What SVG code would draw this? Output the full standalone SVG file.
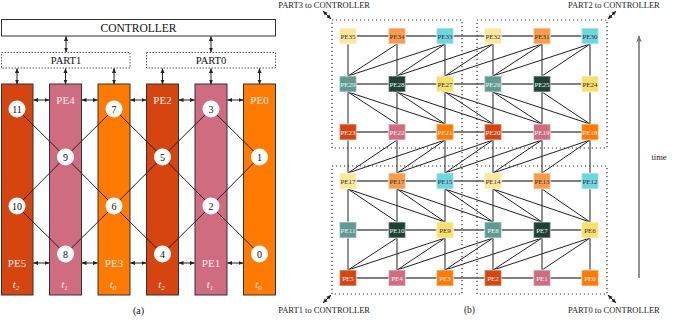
<svg xmlns="http://www.w3.org/2000/svg" width="680" height="328" viewBox="0 0 680 328">
<defs>
<marker id="ah" viewBox="0 0 10 10" refX="9" refY="5" markerWidth="5" markerHeight="5" orient="auto-start-reverse" markerUnits="userSpaceOnUse"><path d="M0,1 L10,5 L0,9 z" fill="#222"/></marker>
<marker id="ahg" viewBox="0 0 10 10" refX="9" refY="5" markerWidth="7" markerHeight="7" orient="auto-start-reverse" markerUnits="userSpaceOnUse"><path d="M0,1 L10,5 L0,9 L3,5 z" fill="#777"/></marker>
<style>
text{font-family:"Liberation Serif","Times New Roman",serif;}
.dbl{stroke:#222;stroke-width:1;fill:none;marker-start:url(#ah);marker-end:url(#ah);}
.col{stroke:#333;stroke-width:1;}
.red{fill:#d64410;} .pink{fill:#d06c80;} .org{fill:#ff7a00;}
.pel{font-size:11px;fill:#fbeeee;text-anchor:middle;}
.tl{font-size:11px;fill:#fbeeee;text-anchor:middle;font-style:italic;}
.circ{fill:#fff;}
.num{font-size:10px;fill:#111;text-anchor:middle;}
.edge{stroke:#222;stroke-width:1;fill:none;}
.hl{stroke:#555;stroke-width:1.3;fill:none;}
.part{fill:none;stroke:#333;stroke-width:1.2;stroke-dasharray:1.2 2.8;}
.partA{fill:#fff;stroke:#555;stroke-width:1;stroke-dasharray:1.5 1.5;}
.bx{stroke:#fff;stroke-opacity:0.45;stroke-width:1.5;}
.ly{fill:#fbe898;} .lo{fill:#fa9b4b;} .cy{fill:#6ed6e0;}
.tg{fill:#5f9b91;} .dg{fill:#1e4134;} .yw{fill:#f9df6c;}
.gl{font-size:7px;text-anchor:middle;}
.dk{fill:#333;} .wt{fill:#f4f4f4;}
.cap{font-size:8.5px;fill:#222;}
</style>
</defs>
<!-- (a) -->
<g id="controller"><rect x="1.5" y="19.5" width="274" height="16.5" fill="#fff" stroke="#333"/><text x="138.5" y="31.8" font-size="11.5" text-anchor="middle" fill="#111">CONTROLLER</text></g>
<g id="part1"><rect class="partA" x="1.5" y="52.5" width="128.5" height="15.5"/><text x="66" y="64" font-size="10.5" text-anchor="middle" fill="#111">PART1</text></g>
<g id="part0"><rect class="partA" x="146.5" y="52.5" width="129" height="15.5"/><text x="211" y="64" font-size="10.5" text-anchor="middle" fill="#111">PART0</text></g>
<g id="pe5a"><rect class="col red" x="1.5" y="84" width="31.5" height="211"/><text class="pel" x="17" y="267">PE5</text><text class="tl" x="16" y="288">t<tspan font-size="7" dy="2">2</tspan></text></g>
<g id="pe4a"><rect class="col pink" x="49.5" y="84" width="32" height="211"/><text class="pel" x="65.5" y="104">PE4</text><text class="tl" x="64.5" y="288">t<tspan font-size="7" dy="2">1</tspan></text></g>
<g id="pe3a"><rect class="col org" x="98" y="84" width="32" height="211"/><text class="pel" x="114" y="267">PE3</text><text class="tl" x="113" y="288">t<tspan font-size="7" dy="2">0</tspan></text></g>
<g id="pe2a"><rect class="col red" x="146.5" y="84" width="32" height="211"/><text class="pel" x="162.5" y="104">PE2</text><text class="tl" x="161.5" y="288">t<tspan font-size="7" dy="2">2</tspan></text></g>
<g id="pe1a"><rect class="col pink" x="195" y="84" width="32" height="211"/><text class="pel" x="211" y="267">PE1</text><text class="tl" x="210" y="288">t<tspan font-size="7" dy="2">1</tspan></text></g>
<g id="pe0a"><rect class="col org" x="243.5" y="84" width="32" height="211"/><text class="pel" x="259.5" y="104">PE0</text><text class="tl" x="258.5" y="288">t<tspan font-size="7" dy="2">0</tspan></text></g>
<g id="connectors-a">
<line class="dbl" x1="66" y1="36.5" x2="66" y2="52"/>
<line class="dbl" x1="211" y1="36.5" x2="211" y2="52"/>
<line class="dbl" x1="17" y1="68.5" x2="17" y2="84"/>
<line class="dbl" x1="65.5" y1="68.5" x2="65.5" y2="84"/>
<line class="dbl" x1="114" y1="68.5" x2="114" y2="84"/>
<line class="dbl" x1="162.5" y1="68.5" x2="162.5" y2="84"/>
<line class="dbl" x1="211" y1="68.5" x2="211" y2="84"/>
<line class="dbl" x1="259.5" y1="68.5" x2="259.5" y2="84"/>
<line class="dbl" x1="33.5" y1="100" x2="49" y2="100"/>
<line class="dbl" x1="82" y1="100" x2="97.5" y2="100"/>
<line class="dbl" x1="130.5" y1="100" x2="146" y2="100"/>
<line class="dbl" x1="179" y1="100" x2="194.5" y2="100"/>
<line class="dbl" x1="227.5" y1="100" x2="243" y2="100"/>
<line class="dbl" x1="33.5" y1="263" x2="49" y2="263"/>
<line class="dbl" x1="82" y1="263" x2="97.5" y2="263"/>
<line class="dbl" x1="130.5" y1="263" x2="146" y2="263"/>
<line class="dbl" x1="179" y1="263" x2="194.5" y2="263"/>
<line class="dbl" x1="227.5" y1="263" x2="243" y2="263"/>
<path class="edge" d="M17,109 L65.5,157 M114,109 L65.5,157 M65.5,157 L17,206 M65.5,157 L114,206 M114,109 L162.5,157 M211,109 L162.5,157 M162.5,157 L114,206 M162.5,157 L211,206 M211,109 L259.5,157 M259.5,157 L211,206 M17,206 L65.5,254 M114,206 L65.5,254 M114,206 L162.5,254 M211,206 L162.5,254 M211,206 L259.5,254"/>
</g>
<g id="n11"><circle class="circ" cx="17" cy="109" r="8.5"/><text class="num" x="17" y="112.5">11</text></g>
<g id="n7"><circle class="circ" cx="114" cy="109" r="8.5"/><text class="num" x="114" y="112.5">7</text></g>
<g id="n3"><circle class="circ" cx="211" cy="109" r="8.5"/><text class="num" x="211" y="112.5">3</text></g>
<g id="n9"><circle class="circ" cx="65.5" cy="157" r="8.5"/><text class="num" x="65.5" y="160.5">9</text></g>
<g id="n5"><circle class="circ" cx="162.5" cy="157" r="8.5"/><text class="num" x="162.5" y="160.5">5</text></g>
<g id="n1"><circle class="circ" cx="259.5" cy="157" r="8.5"/><text class="num" x="259.5" y="160.5">1</text></g>
<g id="n10"><circle class="circ" cx="17" cy="206" r="8.5"/><text class="num" x="17" y="209.5">10</text></g>
<g id="n6"><circle class="circ" cx="114" cy="206" r="8.5"/><text class="num" x="114" y="209.5">6</text></g>
<g id="n2"><circle class="circ" cx="211" cy="206" r="8.5"/><text class="num" x="211" y="209.5">2</text></g>
<g id="n8"><circle class="circ" cx="65.5" cy="254" r="8.5"/><text class="num" x="65.5" y="257.5">8</text></g>
<g id="n4"><circle class="circ" cx="162.5" cy="254" r="8.5"/><text class="num" x="162.5" y="257.5">4</text></g>
<g id="n0"><circle class="circ" cx="259.5" cy="254" r="8.5"/><text class="num" x="259.5" y="257.5">0</text></g>
<text x="138.5" y="314" font-size="10" text-anchor="middle" fill="#111">(a)</text>
<!-- (b) -->
<g id="partitions">
<rect class="part" x="332" y="20" width="130" height="128"/>
<rect class="part" x="477" y="20" width="130" height="128"/>
<rect class="part" x="332" y="166" width="130" height="128"/>
<rect class="part" x="477" y="166" width="130" height="128"/>
<path class="part" d="M462,148 V166 M477,148 V166"/>
</g>
<g id="connectors-b">
<path class="hl" d="M348,36 H590 M348,84 H590 M348,132 H590 M348,181 H590 M348,230 H590 M348,278 H590"/>
<path class="edge" d="M348,36 V278 M397,36 V278 M445,36 V278 M493,36 V278 M542,36 V278 M590,36 V278"/>
<path class="edge" d="M397,44 L348,76 M445,44 L397,76 M445,44 L348,76 M493,44 L445,76 M493,44 L397,76 M542,44 L493,76 M542,44 L445,76 M590,44 L542,76 M590,44 L493,76"/>
<path class="edge" d="M348,92 L397,124 M348,92 L445,124 M397,92 L445,124 M397,92 L493,124 M445,92 L493,124 M445,92 L542,124 M493,92 L542,124 M493,92 L590,124 M542,92 L590,124"/>
<path class="edge" d="M397,140 L348,173 M445,140 L397,173 M445,140 L348,173 M493,140 L445,173 M493,140 L397,173 M542,140 L493,173 M542,140 L445,173 M590,140 L542,173 M590,140 L493,173"/>
<path class="edge" d="M348,189 L397,222 M348,189 L445,222 M397,189 L445,222 M397,189 L493,222 M445,189 L493,222 M445,189 L542,222 M493,189 L542,222 M493,189 L590,222 M542,189 L590,222"/>
<path class="edge" d="M397,238 L348,270 M445,238 L397,270 M445,238 L348,270 M493,238 L445,270 M493,238 L397,270 M542,238 L493,270 M542,238 L445,270 M590,238 L542,270 M590,238 L493,270"/>
<line class="dbl" x1="331" y1="19" x2="323" y2="11"/>
<line class="dbl" x1="608" y1="19" x2="616" y2="11"/>
<line class="dbl" x1="331" y1="295" x2="323" y2="303"/>
<line class="dbl" x1="608" y1="295" x2="616" y2="303"/>
<line x1="639" y1="278" x2="639" y2="36" stroke="#777" stroke-width="1.6" marker-end="url(#ahg)"/>
</g>
<!-- row 0 -->
<g id="pe35"><rect class="bx ly" x="339.5" y="28" width="17" height="16"/><text class="gl dk" x="348" y="38.5">PE35</text></g>
<g id="pe34"><rect class="bx lo" x="388.5" y="28" width="17" height="16"/><text class="gl dk" x="397" y="38.5">PE34</text></g>
<g id="pe33"><rect class="bx cy" x="436.5" y="28" width="17" height="16"/><text class="gl dk" x="445" y="38.5">PE33</text></g>
<g id="pe32"><rect class="bx ly" x="484.5" y="28" width="17" height="16"/><text class="gl dk" x="493" y="38.5">PE32</text></g>
<g id="pe31"><rect class="bx lo" x="533.5" y="28" width="17" height="16"/><text class="gl dk" x="542" y="38.5">PE31</text></g>
<g id="pe30"><rect class="bx cy" x="581.5" y="28" width="17" height="16"/><text class="gl dk" x="590" y="38.5">PE30</text></g>
<!-- row 1 -->
<g id="pe29"><rect class="bx tg" x="339.5" y="76" width="17" height="16"/><text class="gl wt" x="348" y="86.5">PE29</text></g>
<g id="pe28"><rect class="bx dg" x="388.5" y="76" width="17" height="16"/><text class="gl wt" x="397" y="86.5">PE28</text></g>
<g id="pe27"><rect class="bx yw" x="436.5" y="76" width="17" height="16"/><text class="gl dk" x="445" y="86.5">PE27</text></g>
<g id="pe26"><rect class="bx tg" x="484.5" y="76" width="17" height="16"/><text class="gl wt" x="493" y="86.5">PE26</text></g>
<g id="pe25"><rect class="bx dg" x="533.5" y="76" width="17" height="16"/><text class="gl wt" x="542" y="86.5">PE25</text></g>
<g id="pe24"><rect class="bx yw" x="581.5" y="76" width="17" height="16"/><text class="gl dk" x="590" y="86.5">PE24</text></g>
<!-- row 2 -->
<g id="pe23"><rect class="bx red" x="339.5" y="124" width="17" height="16"/><text class="gl wt" x="348" y="134.5">PE23</text></g>
<g id="pe22"><rect class="bx pink" x="388.5" y="124" width="17" height="16"/><text class="gl wt" x="397" y="134.5">PE22</text></g>
<g id="pe21"><rect class="bx org" x="436.5" y="124" width="17" height="16"/><text class="gl wt" x="445" y="134.5">PE21</text></g>
<g id="pe20"><rect class="bx red" x="484.5" y="124" width="17" height="16"/><text class="gl wt" x="493" y="134.5">PE20</text></g>
<g id="pe19"><rect class="bx pink" x="533.5" y="124" width="17" height="16"/><text class="gl wt" x="542" y="134.5">PE19</text></g>
<g id="pe18"><rect class="bx org" x="581.5" y="124" width="17" height="16"/><text class="gl wt" x="590" y="134.5">PE18</text></g>
<!-- row 3 -->
<g id="pe17"><rect class="bx ly" x="339.5" y="173" width="17" height="16"/><text class="gl dk" x="348" y="183.5">PE17</text></g>
<g id="pe16"><rect class="bx lo" x="388.5" y="173" width="17" height="16"/><text class="gl dk" x="397" y="183.5">PE17</text></g>
<g id="pe15"><rect class="bx cy" x="436.5" y="173" width="17" height="16"/><text class="gl dk" x="445" y="183.5">PE15</text></g>
<g id="pe14"><rect class="bx ly" x="484.5" y="173" width="17" height="16"/><text class="gl dk" x="493" y="183.5">PE14</text></g>
<g id="pe13"><rect class="bx lo" x="533.5" y="173" width="17" height="16"/><text class="gl dk" x="542" y="183.5">PE13</text></g>
<g id="pe12"><rect class="bx cy" x="581.5" y="173" width="17" height="16"/><text class="gl dk" x="590" y="183.5">PE12</text></g>
<!-- row 4 -->
<g id="pe11"><rect class="bx tg" x="339.5" y="222" width="17" height="16"/><text class="gl wt" x="348" y="232.5">PE11</text></g>
<g id="pe10"><rect class="bx dg" x="388.5" y="222" width="17" height="16"/><text class="gl wt" x="397" y="232.5">PE10</text></g>
<g id="pe9"><rect class="bx yw" x="436.5" y="222" width="17" height="16"/><text class="gl dk" x="445" y="232.5">PE9</text></g>
<g id="pe8"><rect class="bx tg" x="484.5" y="222" width="17" height="16"/><text class="gl wt" x="493" y="232.5">PE8</text></g>
<g id="pe7"><rect class="bx dg" x="533.5" y="222" width="17" height="16"/><text class="gl wt" x="542" y="232.5">PE7</text></g>
<g id="pe6"><rect class="bx yw" x="581.5" y="222" width="17" height="16"/><text class="gl dk" x="590" y="232.5">PE6</text></g>
<!-- row 5 -->
<g id="pe5"><rect class="bx red" x="339.5" y="270" width="17" height="16"/><text class="gl wt" x="348" y="280.5">PE5</text></g>
<g id="pe4"><rect class="bx pink" x="388.5" y="270" width="17" height="16"/><text class="gl wt" x="397" y="280.5">PE4</text></g>
<g id="pe3"><rect class="bx org" x="436.5" y="270" width="17" height="16"/><text class="gl wt" x="445" y="280.5">PE3</text></g>
<g id="pe2"><rect class="bx red" x="484.5" y="270" width="17" height="16"/><text class="gl wt" x="493" y="280.5">PE2</text></g>
<g id="pe1"><rect class="bx pink" x="533.5" y="270" width="17" height="16"/><text class="gl wt" x="542" y="280.5">PE1</text></g>
<g id="pe0"><rect class="bx org" x="581.5" y="270" width="17" height="16"/><text class="gl wt" x="590" y="280.5">PE0</text></g>
<text class="cap" x="370" y="8" text-anchor="end">PART3 to CONTROLLER</text>
<text class="cap" x="568" y="8">PART2 to CONTROLLER</text>
<text class="cap" x="370" y="313" text-anchor="end">PART1 to CONTROLLER</text>
<text class="cap" x="568" y="313">PART0 to CONTROLLER</text>
<text x="469.5" y="313" font-size="9.5" text-anchor="middle" fill="#222">(b)</text>
<text class="cap" x="659" y="160" text-anchor="middle">time</text>
</svg>
